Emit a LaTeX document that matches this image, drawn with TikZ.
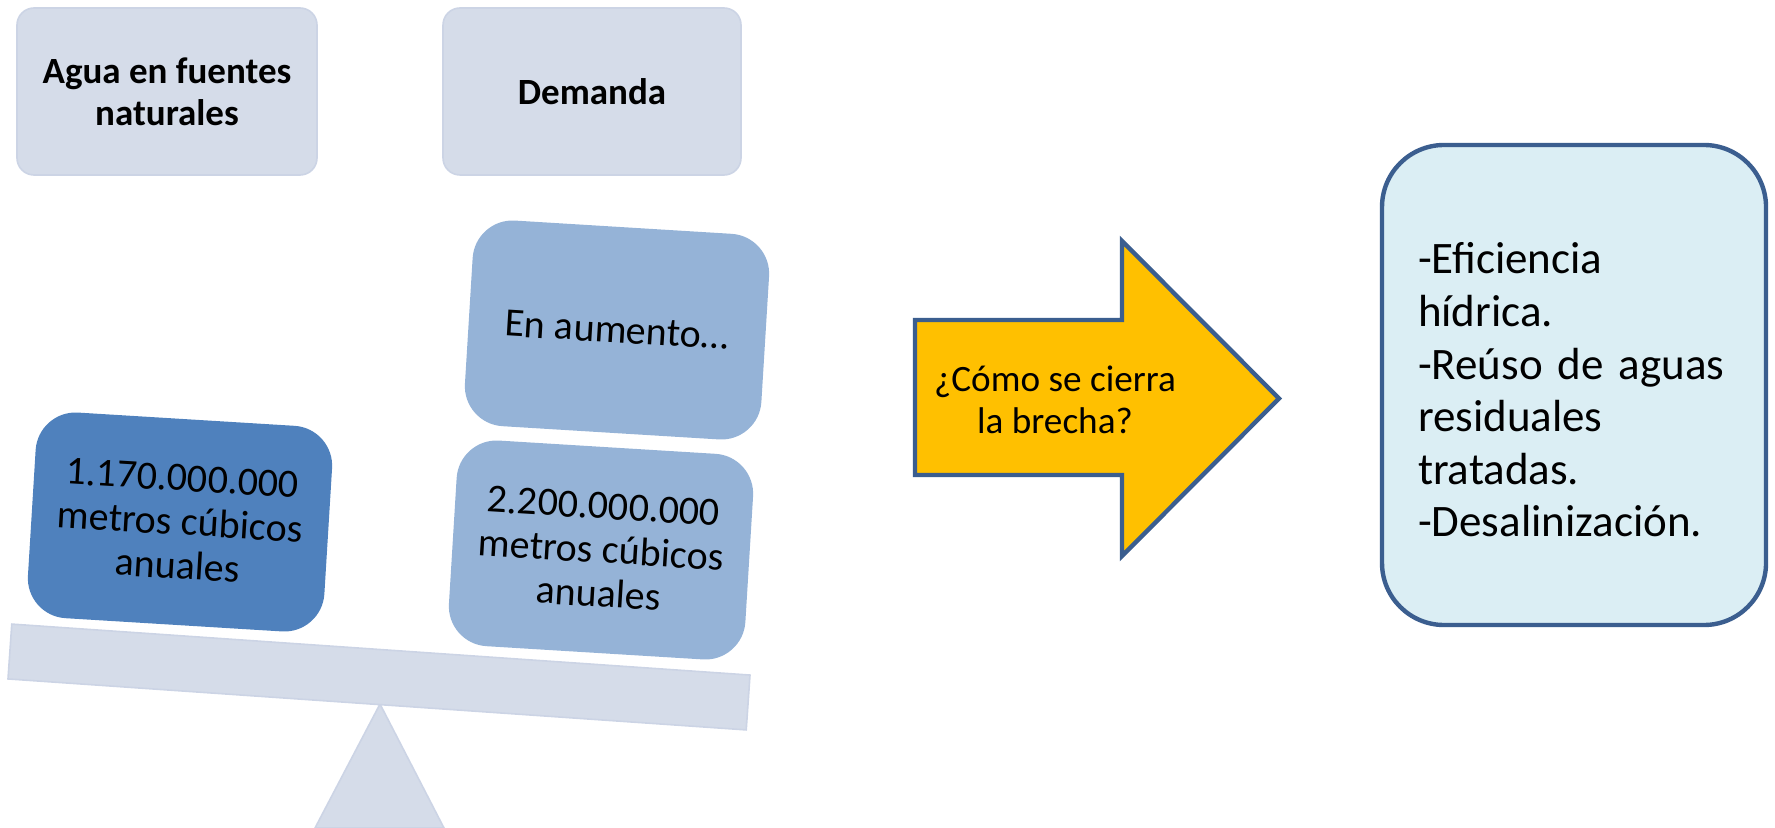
\documentclass[tikz,border=0pt]{standalone}
\usepackage{fontspec}
\setmainfont{Carlito}
\definecolor{pale}{HTML}{D5DCE9}
\definecolor{paleedge}{HTML}{CCD4E5}
\definecolor{dblue}{HTML}{4F81BD}
\definecolor{mblue}{HTML}{95B3D7}
\definecolor{gold}{HTML}{FFC000}
\definecolor{navy}{HTML}{3B5E8F}
\definecolor{ice}{HTML}{DBEEF4}
\begin{document}
\begin{tikzpicture}[x=0.5pt,y=0.5pt,
  headbox/.style={rectangle, rounded corners=8.5pt, fill=pale, draw=paleedge, line width=0.8pt,
    minimum width=150pt, minimum height=83.5pt, align=center, inner sep=0pt,
    font=\bfseries\fontsize{18.5}{21}\selectfont},
  weight/.style={rectangle, rounded corners=20pt, minimum width=148.5pt, minimum height=103pt,
    align=center, inner sep=0pt, rotate=-3.5, font=\fontsize{20}{22}\selectfont},
  beam/.style={rectangle, fill=pale, draw=paleedge, line width=0.8pt, minimum width=370pt,
    minimum height=27.5pt, inner sep=0pt, rotate=-3.95},
  solbox/.style={rectangle, rounded corners=31pt, fill=ice, draw=navy, line width=2.2pt,
    minimum width=192pt, minimum height=240pt, inner sep=0pt},
  arrowshape/.style={fill=gold, draw=navy, line width=2.2pt, line join=miter},
  bodytext/.style={font=\fontsize{22.5}{26.3}\selectfont, text width=163pt, align=left, inner sep=0pt},
  asktext/.style={font=\fontsize{18.6}{21}\selectfont, align=center, inner sep=0pt}
]
\useasboundingbox (0,0) rectangle (1775,-828);

% headers
\node[headbox] (agua) at (167,-91.5) {Agua en fuentes\\naturales};
\node[headbox, minimum width=149pt] (demanda) at (592,-91.5) {Demanda};

% fulcrum
\coordinate (apex) at (380,-704);
\coordinate (bl) at (315,-828);
\coordinate (br) at (444,-828);
\filldraw[fill=pale, draw=paleedge, line width=0.8pt] (apex) -- (br) -- (bl) -- cycle;

% beam
\node[beam] (beam) at (379,-677) {};

% weights
\node[weight, fill=dblue] (oferta) at (180,-522) {1.170.000.000\\metros cúbicos\\anuales};
\node[weight, fill=mblue] (dem) at (601,-550) {2.200.000.000\\metros cúbicos\\anuales};
\node[weight, fill=mblue] (aum) at (617,-330) {En aumento…};

% arrow
\coordinate (a1) at (915,-320);
\coordinate (a2) at (1122,-320);
\coordinate (a3) at (1122,-241);
\coordinate (tip) at (1279,-398.5);
\coordinate (a5) at (1122,-556);
\coordinate (a6) at (1122,-475);
\coordinate (a7) at (915,-475);
\draw[arrowshape] (a1) -- (a2) -- (a3) -- (tip) -- (a5) -- (a6) -- (a7) -- cycle;
\node[asktext] (ask) at (1055,-400) {¿Cómo se cierra\\la brecha?};

% solutions
\node[solbox] (sol) at (1574,-385) {};
\node[bodytext] (soltext) at (1581,-390) {-Eficiencia\\hídrica.\\\makebox[163pt][s]{-Reúso de aguas}\\residuales\\tratadas.\\-Desalinización.};
\end{tikzpicture}
\end{document}
